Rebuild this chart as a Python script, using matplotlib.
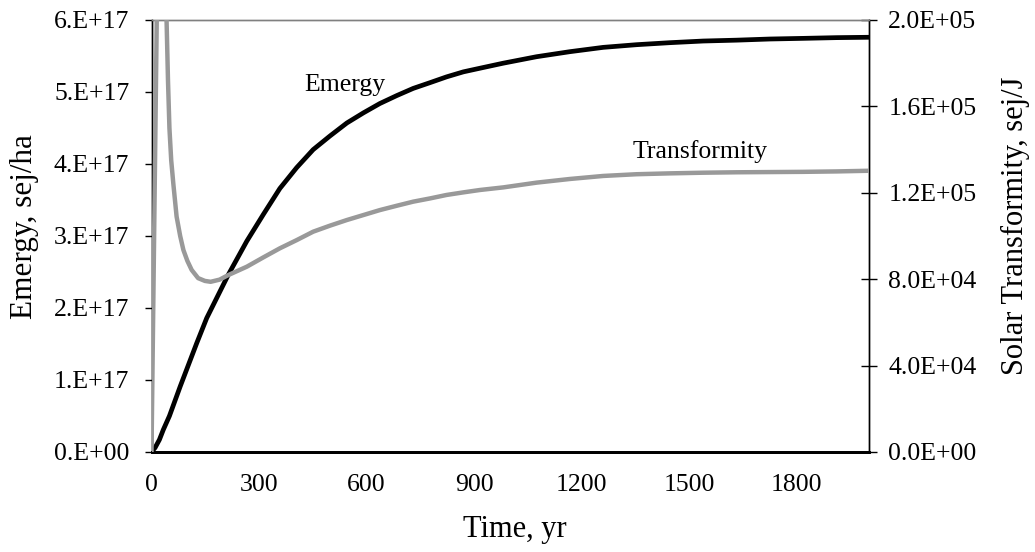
import matplotlib
matplotlib.use("Agg")
import matplotlib.pyplot as plt
from matplotlib.ticker import FixedLocator, FixedFormatter

plt.rcParams['font.family'] = ['Liberation Serif', 'DejaVu Serif']

# Emergy (left axis, sej/ha)
emergy_t = [0, 10, 22, 33, 50, 80, 126, 154, 172, 214, 266, 312, 358, 405, 451,
            498, 545, 591, 637, 684, 730, 777, 823, 870, 916, 981, 1074, 1167,
            1260, 1353, 1446, 1539, 1632, 1725, 1818, 1911, 2000]
emergy_v = [0, 0.06e17, 0.17e17, 0.31e17, 0.50e17, 0.91e17, 1.51e17, 1.86e17,
            2.04e17, 2.46e17, 2.93e17, 3.30e17, 3.66e17, 3.95e17, 4.20e17,
            4.39e17, 4.57e17, 4.71e17, 4.84e17, 4.95e17, 5.05e17, 5.13e17,
            5.21e17, 5.28e17, 5.33e17, 5.40e17, 5.49e17, 5.56e17, 5.62e17,
            5.657e17, 5.685e17, 5.708e17, 5.72e17, 5.736e17, 5.745e17,
            5.755e17, 5.76e17]

# Solar transformity (right axis, sej/J)
tr_t = [0, 30, 42, 46, 50, 55, 61, 70, 80, 89, 100, 112, 130, 149, 165, 190,
        214, 266, 312, 358, 405, 451, 498, 545, 591, 637, 684, 730, 777, 823,
        870, 916, 981, 1074, 1167, 1260, 1353, 1446, 1539, 1632, 1725, 1818,
        1911, 2000]
tr_v = [0, 4.1e5, 2.0e5, 1.72e5, 1.50e5, 1.35e5, 1.24e5, 1.09e5, 1.0e5, 9.35e4,
        8.85e4, 8.43e4, 8.05e4, 7.92e4, 7.88e4, 7.98e4, 8.19e4, 8.58e4, 9.01e4,
        9.43e4, 9.81e4, 1.02e5, 1.048e5, 1.074e5, 1.097e5, 1.12e5, 1.14e5,
        1.159e5, 1.174e5, 1.19e5, 1.202e5, 1.213e5, 1.225e5, 1.247e5, 1.264e5,
        1.278e5, 1.286e5, 1.29e5, 1.293e5, 1.295e5, 1.296e5, 1.297e5, 1.299e5,
        1.302e5]

x_ticks = [0, 300, 600, 900, 1200, 1500, 1800]
x_ticklabels = ["0", "300", "600", "900", "1200", "1500", "1800"]
left_ticks = [0, 1e17, 2e17, 3e17, 4e17, 5e17, 6e17]
left_ticklabels = ["0.E+00", "1.E+17", "2.E+17", "3.E+17", "4.E+17", "5.E+17", "6.E+17"]
right_ticks = [0, 4e4, 8e4, 1.2e5, 1.6e5, 2.0e5]
right_ticklabels = ["0.0E+00", "4.0E+04", "8.0E+04", "1.2E+05", "1.6E+05", "2.0E+05"]

W, H = 1035, 552
fig = plt.figure(figsize=(W / 100, H / 100), dpi=100)
x0, x1, ytop, ybot = 151.5, 868.5, 20, 452
ax = fig.add_axes([x0 / W, 1 - ybot / H, (x1 - x0) / W, (ybot - ytop) / H])
ax2 = ax.twinx()

ax.plot(emergy_t, emergy_v, color='black', lw=3.4, solid_joinstyle='round', zorder=3)
ax2.plot(tr_t, tr_v, color='#999999', lw=3.2, solid_joinstyle='round', zorder=3)

ax.set_xlim(0, 2000)
ax.set_ylim(0, 6e17)
ax2.set_ylim(0, 2e5)

ax.xaxis.set_major_locator(FixedLocator(x_ticks))
ax.xaxis.set_major_formatter(FixedFormatter(x_ticklabels))
ax.yaxis.set_major_locator(FixedLocator(left_ticks))
ax.yaxis.set_major_formatter(FixedFormatter(left_ticklabels))
ax2.yaxis.set_major_locator(FixedLocator(right_ticks))
ax2.yaxis.set_major_formatter(FixedFormatter(right_ticklabels))

fs_tick = 18.5
ax.tick_params(axis='x', length=0, pad=16, labelsize=fs_tick)
ax.tick_params(axis='y', direction='out', length=5, width=1, pad=11, labelsize=fs_tick)
ax2.tick_params(axis='y', direction='inout', length=11.5, width=1, pad=8.5, labelsize=fs_tick)

for a in (ax, ax2):
    a.spines['top'].set_color('#808080')
    a.spines['top'].set_linewidth(1.0)
    a.spines['left'].set_color('black')
    a.spines['left'].set_linewidth(1.0)
    a.spines['right'].set_color('black')
    a.spines['right'].set_linewidth(1.0)
    a.spines['bottom'].set_color('black')
    a.spines['bottom'].set_linewidth(2.0)
    a.set_facecolor('none')

fig.text(25 / W, 1 - 227 / H, "Emergy, sej/ha", rotation=90, ha='center', va='center', fontsize=22.5)
fig.text(1015 / W, 1 - 226 / H, "Solar Transformity, sej/J", rotation=90, ha='center', va='center', fontsize=22)
fig.text(515 / W, 1 - 530 / H, "Time, yr", ha='center', va='center', fontsize=22)

ax.text(540, 5.10e17, "Emergy", ha='center', va='center', fontsize=fs_tick)
ax.text(1530, 4.17e17, "Transformity", ha='center', va='center', fontsize=fs_tick)

fig.savefig("out.png", dpi=100)
